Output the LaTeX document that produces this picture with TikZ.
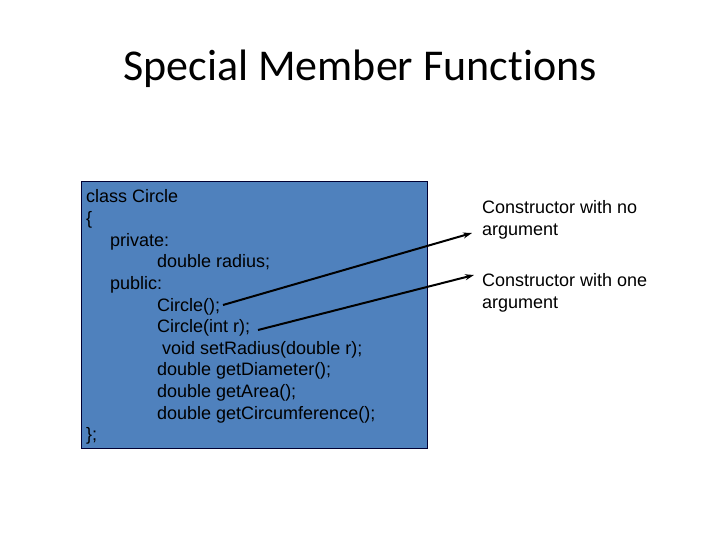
\documentclass[tikz,border=0pt]{standalone}
\usepackage{fontspec}
\setmainfont{Liberation Sans}
\newfontfamily\titlefont[Ligatures=NoCommon]{Carlito}
\usetikzlibrary{arrows.meta}
\definecolor{boxblue}{HTML}{4F81BD}
\tikzset{
  codeline/.style={anchor=base west, inner sep=0pt, font=\fontsize{18}{21.6}\selectfont, text=black},
  notetext/.style={anchor=base west, inner sep=0pt, font=\fontsize{18}{21.6}\selectfont, text=black},
  pointer/.style={draw=black, line width=2pt, -{Stealth[length=9pt,width=6pt]}},
  classbox/.style={draw=black!80!blue, line width=0.8pt, fill=boxblue}
}
\begin{document}
\begin{tikzpicture}[x=1pt,y=-1pt]
\useasboundingbox (0,0) rectangle (720,540);
\node[anchor=base, inner sep=0pt, font=\titlefont\fontsize{44}{52}\selectfont] (title) at (360,81) {Special Member Functions};
\path[classbox] (81,181) rectangle (427,448);
\node[codeline] (l1) at (86,203) {class Circle};
\node[codeline] (l2) at (86,224.6) {\{};
\node[codeline] (l3) at (110,246.2) {private:};
\node[codeline] (l4) at (157,267.8) {double radius;};
\node[codeline] (l5) at (110,289.4) {public:};
\node[codeline] (l6) at (157,311) {Circle();};
\node[codeline] (l7) at (157,332.6) {Circle(int r);};
\node[codeline] (l8) at (157,354.2) {\hspace*{5pt}void setRadius(double r);};
\node[codeline] (l9) at (157,375.8) {double getDiameter();};
\node[codeline] (l10) at (157,397.4) {double getArea();};
\node[codeline] (l11) at (157,419) {double getCircumference();};
\node[codeline] (l12) at (86,440.6) {\};};
\node[notetext] (n1) at (482,214) {Constructor with no};
\node[notetext] (n2) at (482,236) {argument};
\node[notetext] (n3) at (482,286) {Constructor with one};
\node[notetext] (n4) at (482,308) {argument};
\coordinate (s1) at (223,305);
\coordinate (e1) at (472,233);
\coordinate (s2) at (258,330);
\coordinate (e2) at (474,275);
\draw[pointer] (s1) -- (e1);
\draw[pointer] (s2) -- (e2);
\end{tikzpicture}
\end{document}
